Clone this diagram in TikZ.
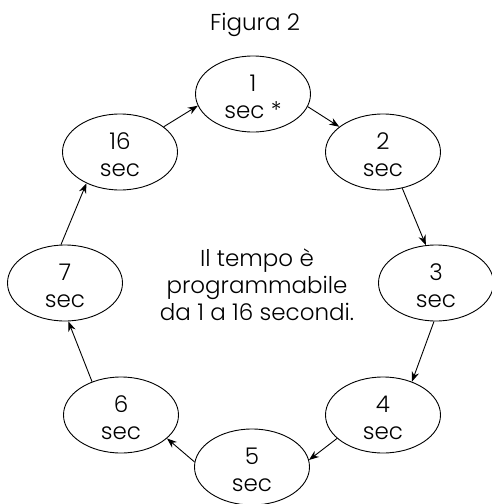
\documentclass[tikz,border=0pt]{standalone}
\usepackage{fontspec}
\setmainfont{Poppins}[UprightFont=* Light]
\usetikzlibrary{shapes.geometric,arrows.meta}
\newcommand\hstr{\rule{0pt}{23pt}}
\tikzset{
  txtfont/.style={font=\fontsize{23}{27}\selectfont},
  sec/.style={ellipse,draw,line width=0.9pt,inner sep=0pt,minimum width=115pt,minimum height=76pt,
    align=center,txtfont},
  conn/.style={line width=0.9pt,-{Stealth[length=10pt,width=7.5pt]}},
}
\begin{document}
\begin{tikzpicture}[x=1pt,y=-1pt]
\useasboundingbox (0,0) rectangle (492,504);
\node[txtfont] (title) at (255,25) {Figura 2};
\node[sec] (n1) at (253,94) {\hstr 1\\sec *};
\node[sec] (n2) at (383,152) {\hstr 2\\sec};
\node[sec] (n3) at (436,283) {\hstr 3\\sec};
\node[sec] (n4) at (383,415) {\hstr 4\\sec};
\node[sec] (n5) at (252,467) {\hstr 5\\sec};
\node[sec] (n6) at (121,415) {\hstr 6\\sec};
\node[sec] (n7) at (65,283) {\hstr 7\\sec};
\node[sec] (n16) at (120,152) {\hstr 16\\sec};
\node[align=center,txtfont] (txt) at (257,285) {Il tempo è\\programmabile\\da 1 a 16 secondi.};
\draw[conn] (n1.-13) -- (n2.150);
\draw[conn] (n2.-62) -- (n3.105);
\draw[conn] (n3.-93) -- (n4.49);
\draw[conn] (n4.207) -- (n5.7);
\draw[conn] (n5.175) -- (n6.-27);
\draw[conn] (n6.131) -- (n7.-85);
\draw[conn] (n7.96) -- (n16.223);
\draw[conn] (n16.30) -- (n1.192);
\end{tikzpicture}
\end{document}
